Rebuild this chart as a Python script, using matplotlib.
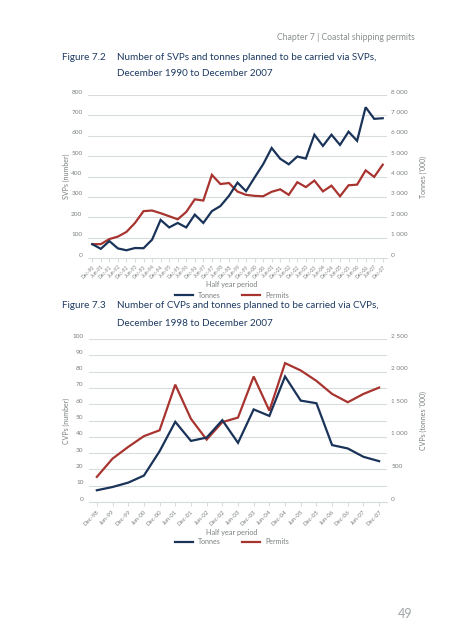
import matplotlib
matplotlib.use("Agg")
import matplotlib.pyplot as plt
import matplotlib.transforms as mtransforms
from matplotlib.lines import Line2D

plt.rcParams['font.family'] = ['Lato', 'DejaVu Sans']

# ---------------- data ----------------
svp_periods = ["Dec-90", "Jun-91", "Dec-91", "Jun-92", "Dec-92", "Jun-93", "Dec-93",
               "Jun-94", "Dec-94", "Jun-95", "Dec-95", "Jun-96", "Dec-96", "Jun-97",
               "Dec-97", "Jun-98", "Dec-98", "Jun-99", "Dec-99", "Jun-00", "Dec-00",
               "Jun-01", "Dec-01", "Jun-02", "Dec-02", "Jun-03", "Dec-03", "Jun-04",
               "Dec-04", "Jun-05", "Dec-05", "Jun-06", "Dec-06", "Jun-07", "Dec-07"]
svp_tonnes = [680, 450, 830, 470, 380, 490, 480, 900, 1870, 1500, 1720, 1500, 2130,
              1720, 2300, 2550, 3050, 3700, 3280, 3950, 4600, 5400, 4870, 4600, 4980,
              4880, 6050, 5500, 6050, 5550, 6200, 5750, 7400, 6830, 6860]
svp_permits = [68, 68, 93, 105, 128, 172, 230, 233, 220, 205, 190, 226, 288, 282, 408,
               363, 368, 326, 310, 305, 303, 325, 337, 310, 372, 348, 380, 327, 355,
               303, 357, 360, 430, 398, 458]

cvp_periods = ["Dec-98", "Jun-99", "Dec-99", "Jun-00", "Dec-00", "Jun-01", "Dec-01",
               "Jun-02", "Dec-02", "Jun-03", "Dec-03", "Jun-04", "Dec-04", "Jun-05",
               "Dec-05", "Jun-06", "Dec-06", "Jun-07", "Dec-07"]
cvp_tonnes = [180, 230, 297, 405, 778, 1230, 937, 988, 1255, 907, 1420, 1320, 1925,
              1555, 1515, 873, 821, 693, 626]
cvp_permits = [15.4, 26.6, 33.8, 40.4, 44, 72, 51, 38.3, 49, 51.8, 77, 56, 85.2, 80.7,
               74.3, 66.3, 61.2, 66.3, 70.2]

NAVY = "#1a3358"
RED = "#a83430"
GRID = "#d9dcdc"
GRAY = "#7a7f80"
TITLE = "#1e3a62"

W, H = 450, 640
fig = plt.figure(figsize=(W / 100, H / 100), dpi=100)


def fx(px):
    return px / W


def fy(py):
    return 1 - py / H


def thousands(v):
    return f"{int(v):,}".replace(",", " ")


def make_chart(left, right, top, bottom, periods, permits, tonnes, ymax, ystep,
               rmax, rstep, llabel, rlabel, xlab_y, leg_y, xfs):
    ax = fig.add_axes([fx(left), fy(bottom), fx(right - left), (bottom - top) / H])
    n = len(periods)
    x = list(range(n))
    ax.set_xlim(-0.5, n - 0.5)
    ax.set_ylim(0, ymax)
    ax.set_yticks(list(range(0, ymax + 1, ystep)))
    ax.set_yticklabels([str(v) for v in range(0, ymax + 1, ystep)])
    ax.grid(axis='y', color=GRID, linewidth=0.8)
    ax.set_axisbelow(True)
    for s in ['top', 'left', 'right']:
        ax.spines[s].set_visible(False)
    ax.spines['bottom'].set_color(GRID)
    ax.spines['bottom'].set_linewidth(0.8)
    ax.tick_params(axis='y', length=0, labelsize=4.6, labelcolor=GRAY, pad=4)
    ax.tick_params(axis='x', length=3, color=GRID, labelsize=xfs, labelcolor=GRAY, pad=2)
    ax.set_xticks(x)
    ax.set_xticklabels(periods, rotation=45, ha='right', va='top', rotation_mode='anchor')
    off = mtransforms.ScaledTranslation(0, 2.5 / 72, fig.dpi_scale_trans)
    for lbl in ax.get_yticklabels():
        lbl.set_transform(lbl.get_transform() + off)

    ax.plot(x, permits, color=RED, linewidth=1.6, solid_joinstyle='miter', zorder=3)
    ax2 = ax.twinx()
    ax2.set_ylim(0, rmax)
    ax2.set_yticks(list(range(0, rmax + 1, rstep)))
    ax2.set_yticklabels([thousands(v) for v in range(0, rmax + 1, rstep)])
    for s in ['top', 'left', 'right', 'bottom']:
        ax2.spines[s].set_visible(False)
    ax2.tick_params(axis='y', length=0, labelsize=4.6, labelcolor=GRAY, pad=3)
    for lbl in ax2.get_yticklabels():
        lbl.set_transform(lbl.get_transform() + off)
    ax2.plot(x, tonnes, color=NAVY, linewidth=1.6, solid_joinstyle='miter', zorder=3)

    mid = (top + bottom) / 2
    fig.text(fx(66), fy(mid), llabel, rotation=90, ha='center', va='center',
             fontsize=5, color=GRAY)
    fig.text(fx(423), fy(mid), rlabel, rotation=90, ha='center', va='center',
             fontsize=5, color=GRAY)
    fig.text(fx(232), fy(xlab_y), "Half year period", ha='center', va='center',
             fontsize=5.2, color=GRAY)
    handles = [Line2D([], [], color=NAVY, linewidth=1.6),
               Line2D([], [], color=RED, linewidth=1.6)]
    fig.legend(handles, ["Tonnes", "Permits"], loc='center',
               bbox_to_anchor=(fx(232), fy(leg_y)), ncol=2, frameon=False,
               fontsize=5, labelcolor=GRAY, handlelength=2.6, columnspacing=3.0,
               handletextpad=0.8)
    return ax


TFS = 7.1

# header
fig.text(fx(415), fy(37), "Chapter 7 | Coastal shipping permits", ha='right',
         va='center', fontsize=6.2, color="#8a8f90")

# chart 1
fig.text(fx(62), fy(57), "Figure 7.2", ha='left', va='center', fontsize=TFS,
         color=TITLE)
fig.text(fx(117), fy(57), "Number of SVPs and tonnes planned to be carried via SVPs,",
         ha='left', va='center', fontsize=TFS, color=TITLE)
fig.text(fx(117), fy(74), "December 1990 to December 2007", ha='left', va='center',
         fontsize=TFS, color=TITLE)
make_chart(88, 387, 95, 258, svp_periods, svp_permits, svp_tonnes, 800, 100,
           8000, 1000, "SVPs (number)", "Tonnes ('000)", 284, 295, 3.5)

# chart 2
fig.text(fx(62), fy(306), "Figure 7.3", ha='left', va='center', fontsize=TFS,
         color=TITLE)
fig.text(fx(117), fy(306), "Number of CVPs and tonnes planned to be carried via CVPs,",
         ha='left', va='center', fontsize=TFS, color=TITLE)
fig.text(fx(117), fy(323), "December 1998 to December 2007", ha='left', va='center',
         fontsize=TFS, color=TITLE)
make_chart(89, 387, 339, 502, cvp_periods, cvp_permits, cvp_tonnes, 100, 10,
           2500, 500, "CVPs (number)", "CVPs (tonnes '000)", 532, 542, 4.3)

# page number
fig.text(fx(405), fy(614), "49", ha='center', va='center', fontsize=9, color="#a0a4a5")

fig.savefig("out.png", dpi=100)
